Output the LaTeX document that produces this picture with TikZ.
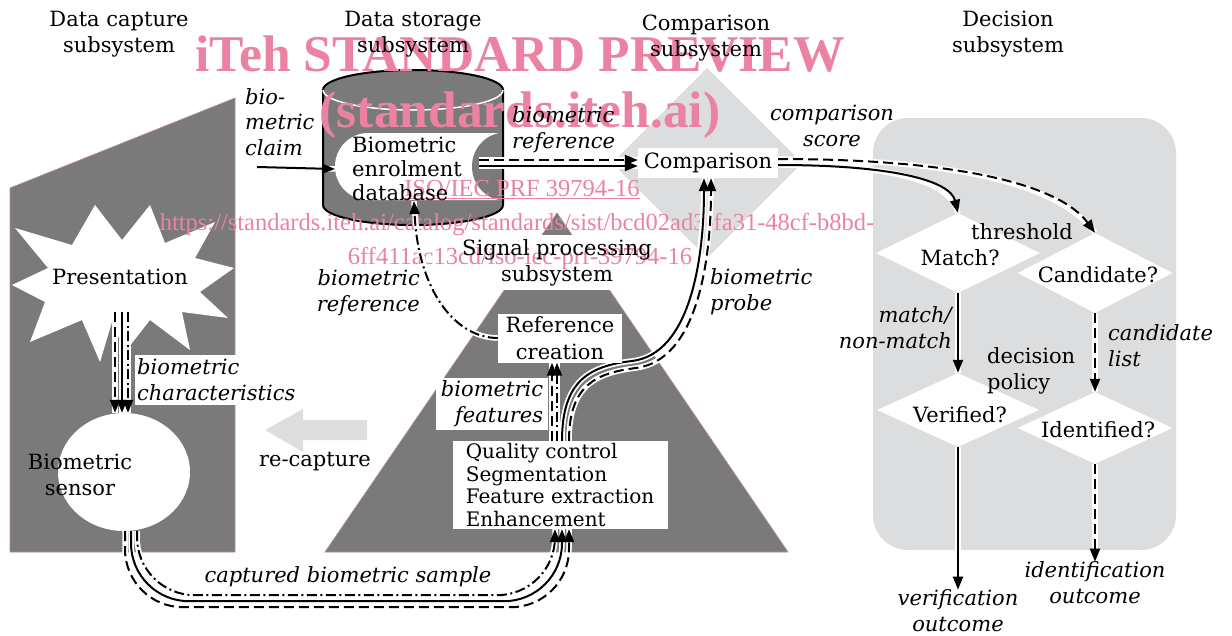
\documentclass[tikz,border=0pt]{standalone}
\usepackage{fontspec}
\setmainfont{DejaVu Serif}
\newfontfamily\markfont{Liberation Serif}
\usepackage{xcolor}
\usepackage{tikz}
\usetikzlibrary{arrows.meta,shapes.geometric,calc}
\definecolor{noisegray}{RGB}{122,122,122}
\definecolor{panelgray}{RGB}{220,221,223}
\definecolor{markpink}{RGB}{235,130,162}
\definecolor{rimpink}{RGB}{185,140,140}
\newcommand{\diafont}{\fontsize{21}{26}\selectfont}
\tikzstyle{plain text}=[font=\diafont, inner sep=0pt, align=center]
\tikzstyle{italic text}=[plain text, font=\diafont\itshape]
\tikzstyle{white box}=[fill=white, inner sep=2pt]
\tikzstyle{mark text}=[text=markpink, inner sep=0pt]
\tikzstyle{decision diamond}=[shape=diamond, fill=white, inner sep=0pt]
\tikzstyle{sensor disc}=[shape=ellipse, fill=white, inner sep=0pt]
\tikzstyle{noise shape}=[fill=noisegray, draw=rimpink, line width=0.7pt]
\tikzstyle{solid edge}=[-{Triangle[length=13pt,width=10pt]}, line width=2pt, draw=black, preaction={draw=white, solid, line width=5.5pt, -}]
\tikzstyle{dashed edge}=[solid edge, dash pattern=on 10pt off 5pt]
\tikzstyle{dashdot edge}=[solid edge, dash pattern=on 10pt off 3.5pt on 2pt off 3.5pt]
\pgfdeclarelayer{shapelayer}
\pgfdeclarelayer{marklayer}
\pgfdeclarelayer{edgelayer}
\pgfdeclarelayer{nodelayer}
\pgfsetlayers{shapelayer,marklayer,edgelayer,nodelayer,main}

\begin{document}
\begin{tikzpicture}[x=1pt, y=-1pt]
	\useasboundingbox (0,0) rectangle (1232,635);
	\begin{pgfonlayer}{shapelayer}
		% data capture panel and the presentation burst
		\path[noise shape] (10,188) -- (235,98) -- (235,552) -- (10,552) -- cycle;
		\fill[white] (150,205) -- (165,243) -- (215,222) -- (195,258) -- (234,268) -- (200,292) -- (228,318) -- (182,312) -- (190,350) -- (150,320) -- (125,352) -- (112,322) -- (100,362) -- (82,320) -- (30,342) -- (45,302) -- (12,285) -- (48,268) -- (15,228) -- (72,245) -- (95,205) -- (122,240) -- cycle;
		% data storage cylinder
		\path[noise shape, draw=none] (323,90) -- (323,205) arc[start angle=180, end angle=0, x radius=90, y radius=20] -- (503,90) arc[start angle=0, end angle=-180, x radius=90, y radius=20] -- cycle;
		\fill[white] (368,133) -- (503,133) -- (503,200) -- (368,200) arc[start angle=90, end angle=270, x radius=33, y radius=33.5] -- cycle;
		\begin{scope}
			\clip (323,60) rectangle (503,230);
			\fill[noisegray] (505,166.5) ellipse[x radius=33, y radius=34];
		\end{scope}
		\draw[line width=2pt] (323,90) -- (323,205) arc[start angle=180, end angle=0, x radius=90, y radius=20] -- (503,90) arc[start angle=0, end angle=-180, x radius=90, y radius=20];
		\draw[white, line width=1.5pt] (323,90) arc[start angle=180, end angle=0, x radius=90, y radius=20];
		% comparison diamond
		\fill[panelgray] (707,68) -- (802,163) -- (707,258) -- (612,163) -- cycle;
		% signal processing triangle
		\path[noise shape] (557,213) -- (788,552) -- (325,552) -- cycle;
		\fill[white] (455,235) rectangle (660,290);
		% decision panel
		\fill[panelgray, rounded corners=35pt] (873,118) rectangle (1176,550);
		% re-capture arrow
		\fill[panelgray] (265,430) -- (303,409) -- (303,420) -- (367,420) -- (367,440) -- (303,440) -- (303,452) -- cycle;
	\end{pgfonlayer}
	\begin{pgfonlayer}{marklayer}
		\node[mark text, font=\markfont\bfseries\fontsize{51.5}{51.5}\selectfont] (markhead) at (520,54) {iTeh STANDARD PREVIEW};
		\node[mark text, font=\markfont\bfseries\fontsize{51.5}{51.5}\selectfont] (marksite) at (520,115) {(standards.iteh.ai)};
		\node[mark text, font=\markfont\fontsize{24.5}{24.5}\selectfont] (markcode) at (522,190) {\underline{ISO/IEC PRF 39794-16}};
		\node[mark text, font=\markfont\fontsize{24.5}{24.5}\selectfont] (markurl) at (517,225) {https://standards.iteh.ai/catalog/standards/sist/bcd02ad3-fa31-48cf-b8bd-};
		\node[mark text, font=\markfont\fontsize{24.5}{24.5}\selectfont] (markid) at (520,258) {6ff411ac13cd/iso-iec-prf-39794-16};
	\end{pgfonlayer}
	\begin{pgfonlayer}{nodelayer}
		\node[plain text] (captitle) at (119,34) {Data capture\\subsystem};
		\node[plain text] (storetitle) at (413,34) {Data storage\\subsystem};
		\node[plain text] (cmptitle) at (706,38) {Comparison\\subsystem};
		\node[plain text] (dectitle) at (1008,34) {Decision\\subsystem};
		\node[plain text, inner ysep=27pt] (pres) at (120,277) {Presentation};
		\node[sensor disc, minimum width=132pt, minimum height=118pt] (sens) at (124,472) {};
		\node[plain text] (senslabel) at (80,475) {Biometric\\sensor};
		\node[italic text, white box, align=left, anchor=west, inner ysep=4pt] (chars) at (135,380) {biometric\\characteristics};
		\node[plain text] (recap) at (315,462) {re-capture};
		\node[italic text] (samplelabel) at (348,577) {captured biometric sample};
		\node[plain text, align=left, anchor=west, inner xsep=17pt, font=\fontsize{21}{24}\selectfont] (db) at (335,169) {Biometric\\enrolment\\database};
		\node[italic text, align=left, anchor=west, font=\fontsize{21}{25.5}\selectfont\itshape] (claim) at (245,122) {bio-\\metric\\claim};
		\coordinate (claimstart) at (257,167);
		\node[italic text, align=left, anchor=west] (breflabel) at (512,130) {biometric\\reference};
		\node[plain text, white box, minimum width=140pt, minimum height=30pt, inner sep=0pt] (cmp) at (708,163) {Comparison};
		\node[italic text] (scorelabel) at (832,126) {comparison\\score};
		\node[plain text] (sigtitle) at (557,263) {Signal processing\\subsystem};
		\node[plain text, white box, minimum width=124pt, minimum height=49pt, font=\fontsize{21}{27}\selectfont] (refc) at (560,338) {Reference\\creation};
		\node[italic text, align=right, anchor=east] (reflabel) at (420,293) {biometric\\reference};
		\node[italic text, align=left, anchor=west] (probelabel) at (710,292) {biometric\\probe};
		\node[italic text, white box, align=right, minimum width=112pt, minimum height=52pt] (feat) at (492,404) {biometric\\features};
		\node[plain text, white box, align=left, minimum width=215pt, minimum height=88pt, inner sep=0pt, font=\fontsize{20}{22.4}\selectfont] (qc) at (560,485) {Quality control\\Segmentation\\Feature extraction\\Enhancement};
		\node[decision diamond, minimum width=164pt, minimum height=80pt] (matchbox) at (958,253) {};
		\node[plain text] (match) at (960,258) {Match?};
		\node[decision diamond, minimum width=155pt, minimum height=80pt] (candbox) at (1095,273) {};
		\node[plain text] (cand) at (1098,275) {Candidate?};
		\node[decision diamond, minimum width=162pt, minimum height=74pt] (verbox) at (958,410) {};
		\node[plain text] (ver) at (960,415) {Verified?};
		\node[decision diamond, minimum width=155pt, minimum height=72pt] (idbox) at (1095,428) {};
		\node[plain text] (ident) at (1098,430) {Identified?};
		\node[plain text] (thresh) at (1022,232) {threshold};
		\node[italic text, align=right, anchor=east] (mnm) at (952,328) {match/\\non-match};
		\node[plain text, align=left, anchor=west] (policy) at (987,371) {decision\\policy};
		\node[italic text, align=left, anchor=west] (clist) at (1108,346) {candidate\\list};
		\node[italic text] (verout) at (958,611) {verification\\outcome};
		\node[italic text] (idout) at (1095,583) {identification\\outcome};
	\end{pgfonlayer}
	\begin{pgfonlayer}{edgelayer}
		\draw[solid edge] (claimstart) -- (db.west);
		\draw[dashed edge] ($(db.east |- cmp.west)+(0,-3)$) -- ($(cmp.west)+(0,-3)$);
		\draw[solid edge] ($(db.east |- cmp.west)+(0,3)$) -- ($(cmp.west)+(0,3)$);
		\draw[dashed edge] ($(pres.south)+(-5,0)$) -- ($(sens.north)+(-9,0)$);
		\draw[solid edge] ($(pres.south)+(2,0)$) -- ($(sens.north)+(-2,0)$);
		\draw[dashdot edge] ($(pres.south)+(8,0)$) -- ($(sens.north)+(4,0)$);
		\draw[dashdot edge, rounded corners=58pt] ($(sens.south)+(13,0)$) -- ($(sens.south)+(13,64)$) -- ($(qc.south)+(-5,66)$) -- ($(qc.south)+(-5,0)$);
		\draw[solid edge, rounded corners=58pt] ($(sens.south)+(7,0)$) -- ($(sens.south)+(7,70)$) -- ($(qc.south)+(2,72)$) -- ($(qc.south)+(2,0)$);
		\draw[dashed edge, rounded corners=58pt] ($(sens.south)+(1,0)$) -- ($(sens.south)+(1,76)$) -- ($(qc.south)+(9,78)$) -- ($(qc.south)+(9,0)$);
		\draw[dashed edge] ($(qc.north)+(-8,0)$) -- ($(refc.south)+(-8,0)$);
		\draw[dashdot edge] ($(qc.north)+(-3,0)$) -- ($(refc.south)+(-3,0)$);
		\draw[solid edge] ($(qc.north)+(2,0)$) .. controls (562,380) and (590,366) .. (632,361) .. controls (690,354) and (704,260) .. ($(cmp.south)+(-4,0)$);
		\draw[dashed edge] ($(qc.north)+(9,0)$) .. controls (569,385) and (596,373) .. (636,368) .. controls (697,360) and (711,262) .. ($(cmp.south)+(3,0)$);
		\draw[dashdot edge] (refc.west) .. controls (455,338) and (418,290) .. ($(db.south)+(7,0)$);
		\draw[solid edge] ($(cmp.east)+(0,2)$) .. controls (890,165) and (950,180) .. (matchbox.north);
		\draw[dashed edge] ($(cmp.east)+(0,-4)$) .. controls (960,159) and (1060,185) .. (candbox.north);
		\draw[solid edge] (matchbox.south) -- (verbox.north);
		\draw[dashed edge] (candbox.south) -- (idbox.north);
		\draw[solid edge] (verbox.south) -- (verout.north);
		\draw[dashed edge] (idbox.south) -- (idout.north);
	\end{pgfonlayer}
\end{tikzpicture}
\end{document}
